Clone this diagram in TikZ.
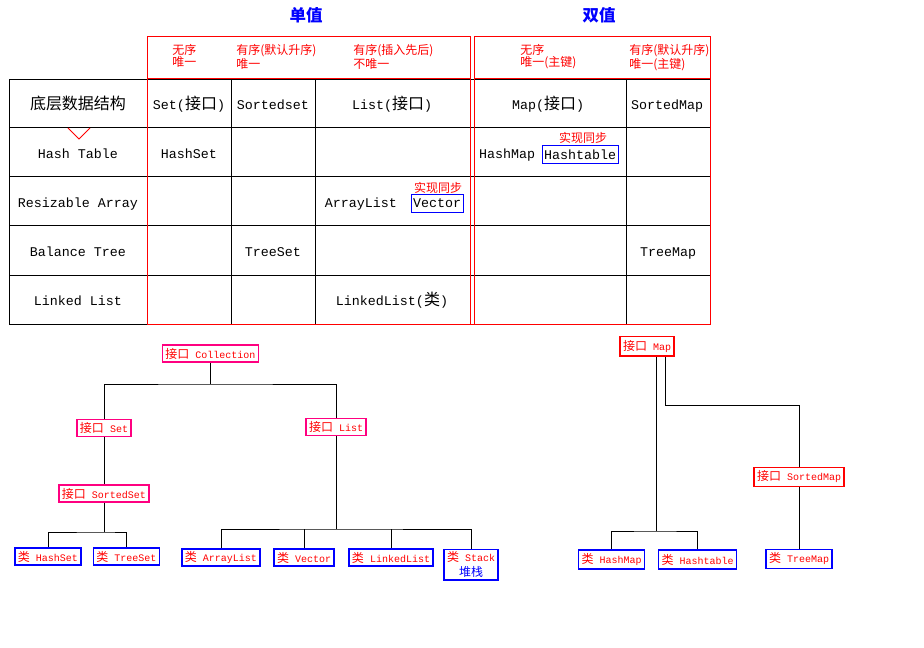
\documentclass[tikz,border=0pt]{standalone}
\usepackage{fontspec}
\setmainfont{Liberation Mono}
\newfontfamily\cjk[Scale=1.2]{Noto Sans CJK SC}
\usepackage{tikz}
\usetikzlibrary{positioning}
\definecolor{tabred}{RGB}{255, 0, 0}
\definecolor{tabblue}{RGB}{0, 0, 255}
\definecolor{ifpink}{RGB}{255, 0, 128}

\begin{document}
\begin{tikzpicture}[
  x=0.75pt, y=-0.75pt,
  cell/.style={font=\fontsize{10}{12}\selectfont, inner sep=0pt, anchor=base},
  note/.style={font=\fontsize{7.5}{8.25}\selectfont\cjk, text=tabred,
               align=left, inner sep=0pt, anchor=north west},
  heading/.style={font=\fontsize{10.3}{12}\selectfont\cjk\bfseries, text=tabblue},
  sync/.style={draw=tabblue, line width=0.75pt, inner xsep=1.5pt, inner ysep=0pt,
               minimum height=14pt, font=\fontsize{10}{12}\selectfont},
  syncnote/.style={font=\fontsize{7.5}{9}\selectfont\cjk, text=tabred,
               fill=white, inner sep=0.5pt},
  iface/.style={draw=ifpink, line width=1pt, text=tabred,
                font=\fontsize{7.5}{9}\selectfont, inner xsep=2.25pt, inner ysep=0pt,
                minimum height=12.75pt},
  mapface/.style={iface, draw=tabred, minimum height=14.5pt},
  cls/.style={iface, draw=tabblue},
  link/.style={line width=0.75pt},
  grid/.style={line width=0.75pt},
  redline/.style={draw=tabred, line width=0.75pt}
]
\useasboundingbox (0,0) rectangle (924,648);

% headings
\node[heading] (single) at (306,15) {单值};
\node[heading] (double) at (599,15) {双值};

% table grid
\foreach \y in {79.5,128,177,226,276}
  \draw[grid] (9,\y) -- (710,\y);
\draw[grid] (9,325) -- (147,325);
\foreach \x in {9,231,315,626}
  \draw[grid] (\x,79.5) -- (\x,325);
\draw[redline] (147,37) rectangle (470,78.5);
\draw[redline] (474,37) rectangle (710,78.5);
\draw[redline] (147,78.5) -- (147,325) -- (710,325) -- (710,78.5);
\draw[redline] (470,78.5) -- (470,325);
\draw[redline] (474,78.5) -- (474,325);
\draw[redline] (68,128) -- (79,139) -- (90,128);

% header notes
\node[note] (n1) at (172,44) {无序\\唯一};
\node[note] (n2) at (236,44) {有序(默认升序)\\唯一};
\node[note] (n3) at (353,44) {有序(插入先后)\\不唯一};
\node[note] (n4) at (520,44) {无序\\唯一(主键)};
\node[note] (n5) at (629,44) {有序(默认升序)\\唯一(主键)};

% first row
\node[cell] (base)  at (78,110)  {\cjk 底层数据结构};
\node[cell] (set)   at (189,110) {Set({\cjk 接口})};
\node[cell] (sset)  at (273,110) {Sortedset};
\node[cell] (list)  at (392,110) {List({\cjk 接口})};
\node[cell] (map)   at (548,110) {Map({\cjk 接口})};
\node[cell] (smap)  at (667,110) {SortedMap};

% hash table row
\node[cell] (hash)   at (78,159)  {Hash Table};
\node[cell] (hset)   at (189,159) {HashSet};
\node[cell] (hmap)   at (507,159) {HashMap};
\node[sync] (htab)   at (580,154.5) {Hashtable};
\node[syncnote] (htabnote) at (583,137.5) {实现同步};

% array row
\node[cell] (array)  at (78,208)  {Resizable Array};
\node[cell] (alist)  at (361,208) {ArrayList};
\node[sync] (vec)    at (437,203.5) {Vector};
\node[syncnote] (vecnote) at (438,187.5) {实现同步};

% tree row
\node[cell] (tree)   at (78,257)  {Balance Tree};
\node[cell] (tset)   at (273,257) {TreeSet};
\node[cell] (tmap)   at (668,257) {TreeMap};

% linked row
\node[cell] (linked) at (78,306)  {Linked List};
\node[cell] (llist)  at (392,306) {LinkedList({\cjk 类})};

% Collection tree
\node[iface] (coll)   at (210.5,353.5) {{\cjk 接口} Collection};
\node[iface] (iset)   at (104,428)   {{\cjk 接口} Set};
\node[iface] (ilist)  at (336,427)   {{\cjk 接口} List};
\node[iface] (isset)  at (104,493.5) {{\cjk 接口} SortedSet};
\node[cls] (chset)  at (48,556.5)  {{\cjk 类} HashSet};
\node[cls] (ctset)  at (126.5,556.5) {{\cjk 类} TreeSet};
\node[cls] (calist) at (221,557.5) {{\cjk 类} ArrayList};
\node[cls] (cvec)   at (304,557.5) {{\cjk 类} Vector};
\node[cls] (cllist) at (391,557.5) {{\cjk 类} LinkedList};
\node[cls, align=center, minimum height=23pt] (cstack) at (471,564.5)
  {{\cjk 类} Stack\\[2.5pt]\textcolor{tabblue}{\cjk 堆栈}};
\coordinate (cj) at (210.5,384);
\coordinate (sj) at (104,532);
\coordinate (lj) at (336,529);
\draw[link] (coll) -- (cj);
\draw[link] (iset.north) |- (cj) -| (ilist.north);
\draw[link] (iset) -- (isset);
\draw[link] (isset) -- (sj);
\draw[link] (chset.north) |- (sj) -| (ctset.north);
\draw[link] (ilist) -- (lj);
\draw[link] (calist.north) |- (lj) -| (cstack.north);
\draw[link] (cvec.north) -- (cvec.north |- lj);
\draw[link] (cllist.north) -- (cllist.north |- lj);

% Map tree
\node[mapface] (imap)  at (647,346.5) {{\cjk 接口} Map};
\node[mapface] (ismap) at (799,477)   {{\cjk 接口} SortedMap};
\node[cls, minimum height=14.25pt] (chmap) at (611.5,559.5) {{\cjk 类} HashMap};
\node[cls, minimum height=14.25pt] (chtab) at (697.5,559.5) {{\cjk 类} Hashtable};
\node[cls, minimum height=14.25pt] (ctmap) at (799,559)     {{\cjk 类} TreeMap};
\coordinate (mj) at (656,531);
\coordinate (sm) at (665,405);
\draw[link] (imap.south -| mj) -- (mj);
\draw[link] (chmap.north) |- (mj) -| (chtab.north);
\draw[link] (imap.south -| sm) -- (sm) -| (ismap.north);
\draw[link] (ismap) -- (ctmap);

\end{tikzpicture}
\end{document}
